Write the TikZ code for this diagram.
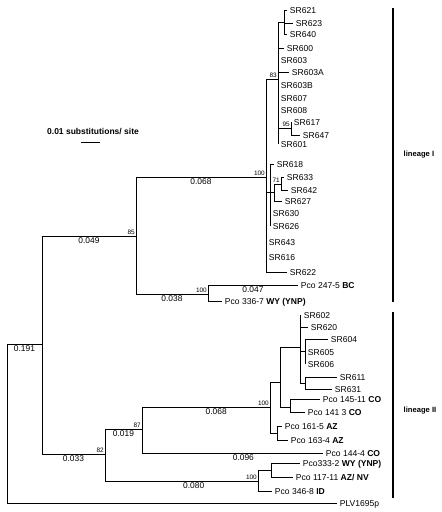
\documentclass[tikz,border=0pt]{standalone}
\usepackage{fontspec}
\setmainfont{Liberation Sans}
\usetikzlibrary{positioning}
\begin{document}
\begin{tikzpicture}
  [x=1pt, y=-1pt, line width=0.8pt,
  taxon/.style={anchor=west, inner sep=2.5pt, text height=6pt, text depth=0pt,
    font=\fontsize{8.55}{9}\selectfont},
  boot/.style={above left, inner sep=0.8pt, font=\fontsize{6.4}{7}\selectfont},
  blen/.style={below, pos=0.75, inner sep=1.5pt, font=\fontsize{8.4}{9}\selectfont},
  lineage/.style={anchor=west, font=\fontsize{7.6}{9}\selectfont\bfseries},
  bar/.style={line width=1.6pt}]
  \useasboundingbox (0,0) rectangle (442,512);
  % internal nodes
  \coordinate (root) at (7,423);
  \coordinate (n2) at (42,344);
  \coordinate (n85) at (136,236);
  \coordinate (n100a) at (266,177);
  \coordinate (n83) at (278,79);
  \coordinate (g1) at (284,22);
  \coordinate (n95) at (291,128);
  \coordinate (ns) at (270,192);
  \coordinate (nt) at (274,192);
  \coordinate (n71) at (281,184);
  \coordinate (n100b) at (208,294);
  \coordinate (n82) at (105,454);
  \coordinate (n87) at (142,429);
  \coordinate (n100c) at (270,407);
  \coordinate (nd) at (280,382);
  \coordinate (nl) at (300,347);
  \coordinate (nb) at (305,351);
  \coordinate (nc) at (305,383);
  \coordinate (ne) at (290,407);
  \coordinate (nf) at (277,433);
  \coordinate (n100d) at (258,481);
  \coordinate (ng) at (271,470);
  % bootstrap values
  \node[boot] (b85) at (n85) {85};
  \node[boot] (b100a) at (n100a) {100};
  \node[boot] (b83) at (n83) {83};
  \node[boot] (b95) at (n95) {95};
  \node[boot] (b71) at (n71) {71};
  \node[boot] (b100b) at (n100b) {100};
  \node[boot] (b82) at (n82) {82};
  \node[boot] (b87) at (n87) {87};
  \node[boot] (b100c) at (n100c) {100};
  \node[boot] (b100d) at (n100d) {100};
  % lineage I taxa
  \node[taxon] (sr621) at (287,10) {SR621};
  \node[taxon] (sr623) at (293,23) {SR623};
  \node[taxon] (sr640) at (287,34) {SR640};
  \node[taxon] (sr600) at (284,48) {SR600};
  \node[taxon] (sr603) at (278,60) {SR603};
  \node[taxon] (sr603a) at (289,72) {SR603A};
  \node[taxon] (sr603b) at (278,85) {SR603B};
  \node[taxon] (sr607) at (278,98) {SR607};
  \node[taxon] (sr608) at (278,110) {SR608};
  \node[taxon] (sr617) at (291,122) {SR617};
  \node[taxon] (sr647) at (300,135) {SR647};
  \node[taxon] (sr601) at (278,144) {SR601};
  \node[taxon] (sr618) at (274,164) {SR618};
  \node[taxon] (sr633) at (284,177) {SR633};
  \node[taxon] (sr642) at (288,190) {SR642};
  \node[taxon] (sr627) at (282,201) {SR627};
  \node[taxon] (sr630) at (270,213) {SR630};
  \node[taxon] (sr626) at (270,226) {SR626};
  \node[taxon] (sr643) at (266,242) {SR643};
  \node[taxon] (sr616) at (266,257) {SR616};
  \node[taxon] (sr622) at (287,272) {SR622};
  \node[taxon] (pco247) at (298,285) {Pco 247-5 \textbf{BC}};
  \node[taxon] (pco336) at (222,301) {Pco 336-7 \textbf{WY (YNP)}};
  % lineage II taxa
  \node[taxon] (sr602) at (301,315) {SR602};
  \node[taxon] (sr620) at (308,327) {SR620};
  \node[taxon] (sr604) at (328,339) {SR604};
  \node[taxon] (sr605) at (305,352) {SR605};
  \node[taxon] (sr606) at (305,364) {SR606};
  \node[taxon] (sr611) at (337,377) {SR611};
  \node[taxon] (sr631) at (332,389) {SR631};
  \node[taxon] (pco145) at (320,399) {Pco 145-11 \textbf{CO}};
  \node[taxon] (pco141) at (305,412) {Pco 141 3 \textbf{CO}};
  \node[taxon] (pco161) at (282,426) {Pco 161-5 \textbf{AZ}};
  \node[taxon] (pco163) at (288,440) {Pco 163-4 \textbf{AZ}};
  \node[taxon] (pco144) at (323,453) {Pco 144-4 \textbf{CO}};
  \node[taxon] (pco333) at (300,463) {Pco333-2 \textbf{WY (YNP)}};
  \node[taxon] (pco117) at (293,477) {Pco 117-11 \textbf{AZ/ NV}};
  \node[taxon] (pco346) at (272,491) {Pco 346-8 \textbf{ID}};
  \node[taxon] (plv) at (337,503) {PLV1695p};
  % branches
  \draw (root) |- node[blen] (l191) {0.191} (n2)
        (root) |- (plv.west);
  \draw (n2) |- node[blen] (l049) {0.049} (n85)
        (n2) |- node[blen] (l033) {0.033} (n82);
  \draw (n85) |- node[blen] (l068a) {0.068} (n100a)
        (n85) |- node[blen] (l038) {0.038} (n100b);
  \draw (n100a) |- (n83) (n100a) |- (ns) (n100a) |- (sr643.west)
        (n100a) |- (sr616.west) (n100a) |- (sr622.west);
  \draw (n83) |- (g1) (n83) |- (sr600.west) (n83) |- (sr603.west)
        (n83) |- (sr603a.west) (n83) |- (sr603b.west) (n83) |- (sr607.west)
        (n83) |- (sr608.west) (n83) |- (n95) (n83) |- (sr601.west);
  \draw (g1) |- (sr621.west) (g1) |- (sr623.west) (g1) |- (sr640.west);
  \draw (n95) |- (sr617.west) (n95) |- (sr647.west);
  \draw (ns) |- (sr618.west) (ns) |- (nt) (ns) |- (sr630.west) (ns) |- (sr626.west);
  \draw (nt) |- (n71) (nt) |- (sr627.west);
  \draw (n71) |- (sr633.west) (n71) |- (sr642.west);
  \draw (n100b) |- node[blen] (l047) {0.047} (pco247.west)
        (n100b) |- (pco336.west);
  \draw (n82) |- node[blen] (l019) {0.019} (n87)
        (n82) |- node[blen, pos=0.79] (l080) {0.080} (n100d);
  \draw (n87) |- node[blen, pos=0.79] (l068b) {0.068} (n100c)
        (n87) |- node[blen, pos=0.78] (l096) {0.096} (pco144.west);
  \draw (n100c) |- (nd) (n100c) |- (nf);
  \draw (nd) |- (nl) (nd) |- (ne);
  \draw (nl) |- (sr602.west) (nl) |- (sr620.west) (nl) |- (nb) (nl) |- (nc);
  \draw (nb) |- (sr604.west) (nb) |- (sr605.west) (nb) |- (sr606.west);
  \draw (nc) |- (sr611.west) (nc) |- (sr631.west);
  \draw (ne) |- (pco145.west) (ne) |- (pco141.west);
  \draw (nf) |- (pco161.west) (nf) |- (pco163.west);
  \draw (n100d) |- (ng) (n100d) |- (pco346.west);
  \draw (ng) |- (pco333.west) (ng) |- (pco117.west);
  % scale bar
  \node[font=\fontsize{8.5}{9}\selectfont\bfseries] (scale) at (93,132) {0.01 substitutions/ site};
  \coordinate (sb1) at (81,142);
  \coordinate (sb2) at (100,142);
  \draw (sb1) -- (sb2);
  % lineages
  \coordinate (lin1a) at (393,8);
  \coordinate (lin1b) at (393,302);
  \coordinate (lin2a) at (393,312);
  \coordinate (lin2b) at (393,498);
  \draw[bar] (lin1a) -- (lin1b);
  \draw[bar] (lin2a) -- (lin2b);
  \node[lineage] (lin1) at (400,155) {lineage I};
  \node[lineage] (lin2) at (400,411) {lineage II};
\end{tikzpicture}
\end{document}
